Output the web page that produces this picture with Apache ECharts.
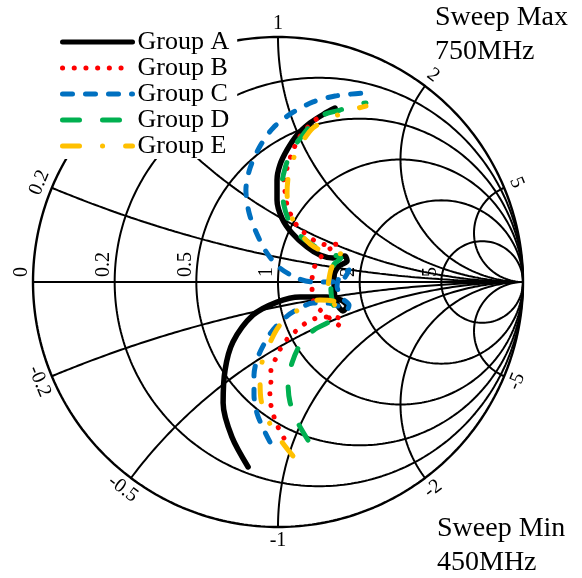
<!DOCTYPE html>
<html><head><meta charset="utf-8">
<script src="https://cdn.jsdelivr.net/npm/echarts@6/dist/echarts.min.js"></script>
<style>html,body{margin:0;padding:0;background:#fff}#c{width:582px;height:578px}</style>
</head><body><div id="c"></div>
<script>
// Smith chart traces: reflection coefficient [real, imag], sweep from 450MHz (first) to 750MHz (last)
const groupNames = ['Group A', 'Group B', 'Group C', 'Group D', 'Group E'];
const groupA = [[-0.122,-0.755],[-0.188,-0.633],[-0.224,-0.494],[-0.216,-0.359],[-0.184,-0.245],[-0.102,-0.135],[-0.004,-0.082],[0.090,-0.061],[0.200,-0.061],[0.257,-0.073],[0.282,-0.098],[0.265,-0.118],[0.241,-0.090],[0.229,-0.033],[0.229,0.024],[0.249,0.065],[0.282,0.086],[0.273,0.106],[0.224,0.098],[0.171,0.110],[0.118,0.143],[0.057,0.200],[0.016,0.261],[-0.004,0.335],[-0.004,0.416],[0.008,0.478],[0.037,0.539],[0.078,0.600],[0.131,0.649],[0.188,0.686],[0.233,0.710]];
const groupB = [[0.024,-0.637],[0.000,-0.592],[-0.016,-0.551],[-0.029,-0.502],[-0.033,-0.453],[-0.029,-0.408],[-0.029,-0.359],[-0.008,-0.310],[0.012,-0.269],[0.041,-0.229],[0.078,-0.196],[0.114,-0.167],[0.159,-0.147],[0.212,-0.143],[0.253,-0.150],[0.253,-0.180],[0.180,-0.122],[0.147,-0.082],[0.139,-0.037],[0.139,0.008],[0.147,0.057],[0.171,0.098],[0.212,0.135],[0.245,0.155],[0.204,0.151],[0.159,0.163],[0.118,0.192],[0.082,0.224],[0.057,0.265],[0.037,0.314],[0.029,0.367],[0.024,0.416],[0.037,0.465],[0.057,0.527],[0.086,0.588],[0.118,0.629],[0.151,0.661],[0.196,0.690]];
const groupC = [[-0.033,-0.653],[-0.061,-0.596],[-0.086,-0.535],[-0.098,-0.461],[-0.098,-0.380],[-0.086,-0.318],[-0.061,-0.261],[-0.024,-0.200],[0.037,-0.139],[0.090,-0.106],[0.143,-0.086],[0.200,-0.086],[0.245,-0.098],[0.278,-0.118],[0.290,-0.094],[0.261,-0.065],[0.241,-0.016],[0.253,0.024],[0.290,0.049],[0.269,0.016],[0.212,0.000],[0.143,0.000],[0.078,0.016],[0.008,0.057],[-0.045,0.118],[-0.086,0.196],[-0.118,0.282],[-0.131,0.376],[-0.114,0.465],[-0.073,0.555],[-0.020,0.629],[0.057,0.690],[0.143,0.735],[0.233,0.759],[0.343,0.771]];
const groupD = [[0.122,-0.645],[0.082,-0.576],[0.049,-0.490],[0.041,-0.412],[0.057,-0.331],[0.090,-0.257],[0.147,-0.196],[0.208,-0.163],[0.241,-0.131],[0.224,-0.086],[0.216,-0.033],[0.216,0.029],[0.229,0.073],[0.257,0.098],[0.204,0.118],[0.135,0.155],[0.078,0.200],[0.045,0.249],[0.024,0.314],[0.016,0.396],[0.029,0.465],[0.057,0.539],[0.098,0.596],[0.139,0.645],[0.184,0.682],[0.253,0.702],[0.310,0.722],[0.359,0.731]];
const groupE = [[0.061,-0.710],[0.016,-0.653],[-0.037,-0.571],[-0.069,-0.482],[-0.073,-0.408],[-0.065,-0.327],[-0.024,-0.229],[0.012,-0.171],[0.082,-0.114],[0.171,-0.073],[0.241,-0.082],[0.265,-0.114],[0.224,-0.086],[0.204,-0.041],[0.208,0.012],[0.224,0.069],[0.273,0.110],[0.192,0.122],[0.131,0.155],[0.082,0.212],[0.049,0.286],[0.037,0.363],[0.045,0.449],[0.069,0.518],[0.102,0.576],[0.143,0.629],[0.200,0.661],[0.273,0.694],[0.359,0.718]];

// grid values
const resistanceTicks = [0, 0.2, 0.5, 1, 2, 5];
const reactanceTicks = [0.2, 0.5, 1, 2, 5, -0.2, -0.5, -1, -2, -5];
const sweepMaxText = ['Sweep Max', '750MHz'];
const sweepMinText = ['Sweep Min', '450MHz'];

const groupData = [groupA, groupB, groupC, groupD, groupE];
const groupColors = ['#000000', '#ff0000', '#0070c0', '#00b050', '#ffc000'];
const groupDash = ['solid', [0.1, 11.6], [10, 13], [17, 23], [17, 23, 0.1, 23]];
const groupWidth = [5.5, 5, 5, 5, 5];

function rCircle(r) {
  const c = r / (1 + r), rad = 1 / (1 + r), pts = [];
  for (let i = 0; i <= 360; i++) {
    const t = i * Math.PI / 180;
    pts.push([c + rad * Math.cos(t), rad * Math.sin(t)]);
  }
  return pts;
}
function gammaOf(r, x) {
  const d = (r + 1) * (r + 1) + x * x;
  return [(r * r + x * x - 1) / d, 2 * x / d];
}
function xArc(x) {
  const pts = [];
  const n = 300;
  for (let i = 0; i < n; i++) {
    const r = Math.tan(i / n * Math.PI / 2);
    pts.push(gammaOf(r, x));
  }
  pts.push([1, 0]);
  return pts;
}

const gridSeries = [];
const gridStyle = { color: '#000', width: 2 };
resistanceTicks.forEach(r => gridSeries.push({
  type: 'line', data: rCircle(r), showSymbol: false, symbol: 'none', silent: true, clip: false,
  lineStyle: { color: '#000', width: r === 0 ? 2.4 : 2 }, z: 1, animation: false
}));
reactanceTicks.forEach(x => gridSeries.push({
  type: 'line', data: xArc(x), showSymbol: false, symbol: 'none', silent: true, clip: false,
  lineStyle: gridStyle, z: 1, animation: false
}));
gridSeries.push({
  type: 'line', data: [[-1, 0], [1, 0]], showSymbol: false, symbol: 'none', silent: true, clip: false,
  lineStyle: gridStyle, z: 1, animation: false
});

// tick labels
const labelData = [];
resistanceTicks.forEach(r => {
  labelData.push([(r - 1) / (r + 1) - 0.045, 0.02, 90, String(r), 'left']);
});
reactanceTicks.forEach(x => {
  const g = gammaOf(0, x);
  const th = Math.atan2(g[1], g[0]) * 180 / Math.PI;
  const rr = 1.055;
  const rot = x > 0 ? th - 90 : th + 90;
  labelData.push([g[0] * rr, g[1] * rr, rot, String(x), 'center']);
});

const labelSeries = {
  type: 'custom', silent: true, z: 3, clip: false, animation: false,
  data: labelData.map(d => [d[0], d[1]]),
  encode: { x: 0, y: 1 },
  renderItem: function (params, api) {
    const d = labelData[params.dataIndex];
    const p = api.coord([d[0], d[1]]);
    return {
      type: 'text', x: p[0], y: p[1], rotation: d[2] * Math.PI / 180,
      style: { text: d[3], font: '20px "Liberation Serif"', fill: '#000', align: d[4], verticalAlign: 'middle' }
    };
  }
};

const dataSeries = groupNames.map((name, i) => ({
  name: name, type: 'line', data: groupData[i], showSymbol: false, symbol: 'none',
  smooth: 0.3, clip: false, z: 5 + i, animation: false,
  lineStyle: { color: groupColors[i], width: groupWidth[i], type: groupDash[i], cap: 'round', join: 'round' },
  itemStyle: { color: groupColors[i] }
}));

const chart = echarts.init(document.getElementById('c'), null, { renderer: 'canvas', width: 582, height: 578 });
chart.setOption({
  backgroundColor: '#fff',
  animation: false,
  grid: { left: 33, top: 37, width: 490, height: 490 },
  xAxis: { type: 'value', min: -1, max: 1, show: false },
  yAxis: { type: 'value', min: -1, max: 1, show: false },
  legend: {
    data: groupNames, orient: 'vertical', left: 52, top: 21,
    padding: [8, 8, 0, 8], backgroundColor: '#fff', z: 20,
    itemWidth: 70, itemHeight: 14, itemGap: 0,
    itemStyle: { opacity: 0 },
    lineStyle: { width: 5, cap: 'round' },
    textStyle: { fontFamily: 'Liberation Serif', fontSize: 26, color: '#000', lineHeight: 26 }
  },
  graphic: [
    { type: 'text', left: 435, top: 1, z: 30,
      style: { text: sweepMaxText.join('\n'), font: '28px "Liberation Serif"', fill: '#000', lineHeight: 33.5 } },
    { type: 'text', left: 437, top: 512, z: 30,
      style: { text: sweepMinText.join('\n'), font: '28px "Liberation Serif"', fill: '#000', lineHeight: 33.5 } }
  ],
  series: gridSeries.concat([labelSeries]).concat(dataSeries)
});
</script></body></html>
